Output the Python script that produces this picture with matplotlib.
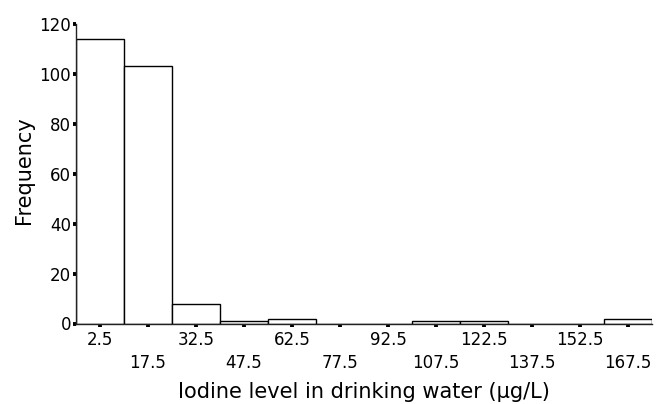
import matplotlib
matplotlib.use("Agg")
import matplotlib.pyplot as plt

plt.rcParams['font.family'] = ['DejaVu Sans']

bin_centers = [2.5, 17.5, 32.5, 47.5, 62.5, 77.5, 92.5, 107.5, 122.5, 137.5, 152.5, 167.5]
frequencies = [114, 103, 8, 1, 2, 0, 0, 1, 1, 0, 0, 2]
y_ticks = [0, 20, 40, 60, 80, 100, 120]
row1_ticks = [2.5, 32.5, 62.5, 92.5, 122.5, 152.5]
row2_ticks = [17.5, 47.5, 77.5, 107.5, 137.5, 167.5]

fig = plt.figure(figsize=(6.68, 4.04), dpi=100)
ax = fig.add_axes([76/668, 1 - 323.5/404, (652 - 76)/668, (323.5 - 24)/404])

ax.bar(bin_centers, frequencies, width=15, facecolor='white', edgecolor='black',
       linewidth=1.0, zorder=2)

ax.set_xlim(-5, 175)
ax.set_ylim(0, 120)

for s in ['top', 'right']:
    ax.spines[s].set_visible(False)
for s in ['left', 'bottom']:
    ax.spines[s].set_linewidth(1.0)
    ax.spines[s].set_color('#222222')

ax.set_yticks(y_ticks)
ax.set_yticklabels([str(v) for v in y_ticks])
ax.tick_params(axis='y', direction='out', length=2.5, width=2.8, pad=1, labelsize=12,
               colors='black')

ax.set_xticks(row1_ticks)
ax.set_xticklabels([f"{v:g}" for v in row1_ticks])
ax.set_xticks(row2_ticks, minor=True)
ax.set_xticklabels([f"{v:g}" for v in row2_ticks], minor=True)
ax.tick_params(axis='x', which='major', direction='out', length=2.5, width=2.8, pad=3,
               labelsize=12)
ax.tick_params(axis='x', which='minor', direction='out', length=2.5, width=2.8, pad=19.5,
               labelsize=12)

ax.set_ylabel('Frequency', fontsize=15)
ax.set_xlabel('Iodine level in drinking water (µg/L)', fontsize=15)
ax.yaxis.set_label_coords(-0.073, 0.512)
ax.xaxis.set_label_coords(0.5, -0.194)

fig.savefig('out.png', dpi=100)
